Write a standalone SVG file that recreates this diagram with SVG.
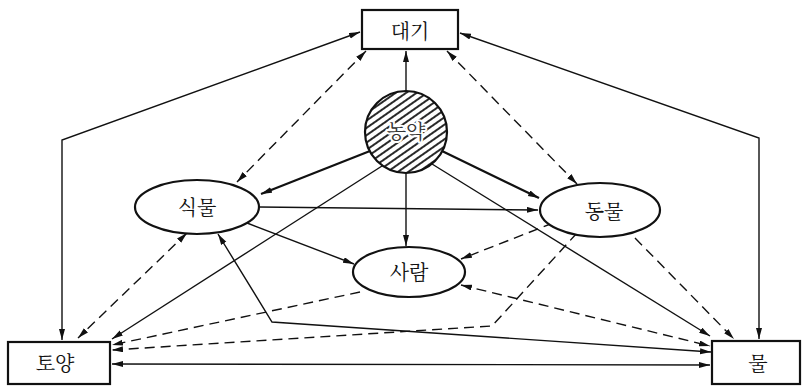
<svg xmlns="http://www.w3.org/2000/svg" width="804" height="386" viewBox="0 0 804 386">
<style>
.box{fill:#fff;stroke:#111;stroke-width:2.2}
.ell{fill:#fff;stroke:#111;stroke-width:2.2}
.lbl{font-family:"Noto Serif CJK KR","Noto Sans CJK KR",serif;font-size:20px;fill:#111;text-anchor:middle;dominant-baseline:central}
.c{fill:none;stroke:#111;stroke-width:1.4}
.t{stroke-width:2.2}
.d{stroke-dasharray:10 6;stroke-width:1.4}
.a{marker-end:url(#ah)}
.b{marker-start:url(#ah);marker-end:url(#ah)}
</style>
<defs>
<marker id="ah" markerUnits="userSpaceOnUse" markerWidth="13" markerHeight="8" refX="11" refY="3" orient="auto-start-reverse">
<path d="M0,0 L11,3 L0,6 z" fill="#111"/>
</marker>
<pattern id="hatch" width="6" height="6" patternUnits="userSpaceOnUse" patternTransform="rotate(-35)">
<rect width="6" height="6" fill="#fff"/>
<line x1="0" y1="3" x2="6" y2="3" stroke="#111" stroke-width="1.8"/>
</pattern>
</defs>
<g id="connectors">
<path class="c b" d="M62,340 L62,140 L360,32"/>
<path class="c b" d="M460,33 L759,138 L759,339"/>
<path class="c d b" d="M366,51 L237,182"/>
<path class="c d b" d="M447,51 L577,184"/>
<path class="c a" d="M406,91 L406,51"/>
<path class="c t a" d="M370,151 L261,194"/>
<path class="c t a" d="M442,151 L539,198"/>
<path class="c a" d="M406,173 L406,246"/>
<path class="c a" d="M382,166 L112,339"/>
<path class="c a" d="M432,164 L710,336"/>
<path class="c a" d="M259,207 L538,210"/>
<path class="c a" d="M247,223 L354,264"/>
<path class="c d b" d="M187,233 L78,338"/>
<path class="c b" d="M711,352 L272,322 L218,234"/>
<path class="c d a" d="M553,223 L461,259"/>
<path class="c d a" d="M577,233 L492,326 L112,350"/>
<path class="c d a" d="M360,292 L112,345"/>
<path class="c d b" d="M461,285 L710,346"/>
<path class="c d a" d="M635,238 L734,339"/>
<path class="c b" d="M112,364 L710,365"/>
</g>
<g id="daegi">
<rect class="box" x="362" y="10" width="96" height="39"/>
<text class="lbl" x="410" y="30">대기</text>
</g>
<g id="nongyak">
<circle cx="406" cy="132" r="41" fill="url(#hatch)" stroke="#111" stroke-width="2.2"/>
<text class="lbl" x="406" y="130" style="fill:#333;stroke:#fff;stroke-width:4;paint-order:stroke">농약</text>
</g>
<g id="sikmul">
<ellipse class="ell" cx="197" cy="207" rx="62" ry="27"/>
<text class="lbl" x="197" y="206">식물</text>
</g>
<g id="dongmul">
<ellipse class="ell" cx="600" cy="210" rx="60" ry="27"/>
<text class="lbl" x="604" y="210">동물</text>
</g>
<g id="saram">
<ellipse class="ell" cx="409" cy="272" rx="56" ry="25"/>
<text class="lbl" x="409" y="271">사람</text>
</g>
<g id="toyang">
<rect class="box" x="8" y="342" width="102" height="42"/>
<text class="lbl" x="55" y="362">토양</text>
</g>
<g id="mul">
<rect class="box" x="712" y="341" width="88" height="43"/>
<text class="lbl" x="758" y="362">물</text>
</g>
</svg>
